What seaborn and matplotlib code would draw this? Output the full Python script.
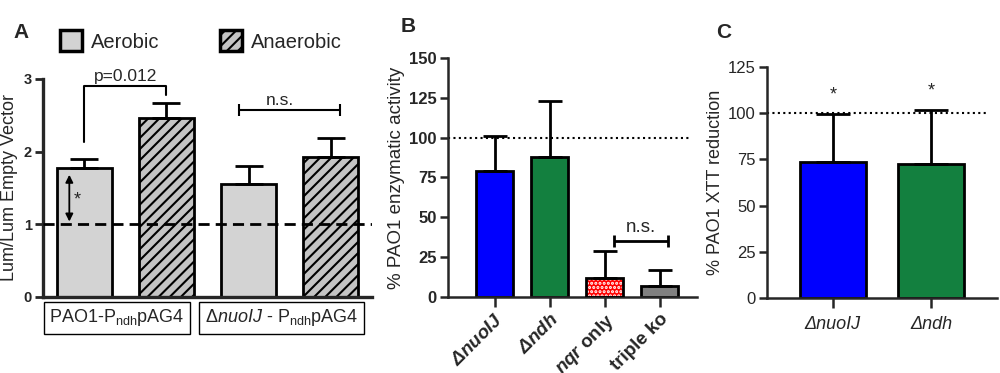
"""Three panel bar figure: luminescence ratio, enzymatic activity, XTT reduction."""
import matplotlib.pyplot as plt
import matplotlib.patches as mpatches
import numpy as np
import pandas as pd
import seaborn as sns

sns.set_style("ticks")
plt.rcParams["font.family"] = ["Liberation Sans", "DejaVu Sans"]
plt.rcParams["mathtext.fontset"] = "custom"
plt.rcParams["mathtext.rm"] = "Liberation Sans"
plt.rcParams["mathtext.it"] = "Liberation Sans:italic"
plt.rcParams["mathtext.bf"] = "Liberation Sans:bold"
plt.rcParams["mathtext.bfit"] = "Liberation Sans:italic:bold"
plt.rcParams["hatch.linewidth"] = 1.5

# panel A data
strains_a = ["PAO1", "nuoIJ"]
conditions = ["Aerobic", "Anaerobic"]
lum_aerobic = [1.78, 1.56]
lum_aerobic_err = [0.12, 0.24]
lum_anaerobic = [2.46, 1.92]
lum_anaerobic_err = [0.21, 0.27]
box_labels_a = [r"PAO1-P$_{\mathrm{ndh}}$pAG4",
                r"Δ$\it{nuoIJ}$ - P$_{\mathrm{ndh}}$pAG4"]

# panel B data
strains_b = ["ΔnuoIJ", "Δndh", "nqr only", "triple ko"]
tick_labels_b = [r"$\mathbfit{Δnuo}$$\mathbfit{IJ}$", r"$\mathbfit{Δndh}$",
                 r"$\mathbfit{nqr}$ only", "triple ko"]
activity = [79, 88, 12, 7]
activity_err = [22, 35, 17, 10]
colors_b = ["#0000ff", "#13803f", "#ff0000", "#808080"]

# panel C data
strains_c = ["ΔnuoIJ", "Δndh"]
xtt = [73.5, 72.5]
xtt_err = [26, 29]
colors_c = ["#0000ff", "#13803f"]

fig = plt.figure(figsize=(10, 3.73), dpi=100)

###### panel A
ax = fig.add_axes([0.043, 0.2038, 0.329, 0.5845])
df_a = pd.DataFrame({
    "strain": strains_a * 2,
    "condition": [conditions[0]] * 2 + [conditions[1]] * 2,
    "lum": lum_aerobic + lum_anaerobic,
    "err": lum_aerobic_err + lum_anaerobic_err,
})
sns.barplot(data=df_a, x="strain", y="lum", hue="condition", order=strains_a,
    hue_order=conditions, palette=["#d3d3d3", "#c4c4c4"], width=1.0, gap=0.33,
    saturation=1, edgecolor="black", linewidth=2, legend=False, ax=ax, errorbar=None)

bar_conts = list(ax.containers)
xa = [b.get_x() + b.get_width() / 2 for c in bar_conts for b in c]
# order: PAO1 aer, nuoIJ aer, PAO1 anaer, nuoIJ anaer
for cond, cont in zip(conditions, bar_conts):
    sub = df_a[df_a["condition"] == cond]
    xs = [b.get_x() + b.get_width() / 2 for b in cont]
    if cond == "Anaerobic":
        for b in cont:
            b.set_hatch("///")
    ax.errorbar(xs, sub["lum"], yerr=[np.zeros(len(sub)), sub["err"]], fmt="none",
        ecolor="black", elinewidth=2, capsize=10, capthick=2, zorder=1)

ax.axhline(1, color="black", lw=2, ls=(0, (4, 2.2)), zorder=5)
ax.set_xlim(-0.5, 1.5)
ax.set_ylim(0, 3)
ax.set_yticks([0, 1, 2, 3])
ax.set_xticks([])
ax.set_xlabel("")
ax.set_ylabel("Lum/Lum Empty Vector", fontsize=13, labelpad=4)
ax.tick_params(axis="y", labelsize=10.5, width=2, length=6, pad=2)
for t in ax.get_yticklabels():
    t.set_fontweight("bold")
sns.despine(ax=ax)
for s in ["left", "bottom"]:
    ax.spines[s].set_linewidth(2.4)

# p value bracket
ax.plot([xa[0], xa[0], xa[2], xa[2]], [2.13, 2.90, 2.90, 2.78], color="black",
    lw=1.5, clip_on=False)
ax.text((xa[0] + xa[2]) / 2, 2.93, "p=0.012", ha="center", va="bottom", fontsize=12.5)
ax.errorbar([(xa[1] + xa[3]) / 2], [2.57], xerr=[[(xa[3] - xa[1]) / 2 * 1.23]],
    fmt="none", ecolor="black", elinewidth=1.5, capsize=4, capthick=1.5)
ax.text((xa[1] + xa[3]) / 2 - 0.06, 2.60, "n.s.", ha="center", va="bottom", fontsize=12.5)

ax.annotate("", xy=(xa[0] - 0.09, 1.0), xytext=(xa[0] - 0.09, 1.72),
    arrowprops=dict(arrowstyle="<|-|>", color="black", lw=1.3, mutation_scale=11))
ax.text(xa[0] - 0.04, 1.33, "*", ha="center", va="center", fontsize=13)

for i, lab in enumerate(box_labels_a):
    ax.text(i - 0.05, -0.096, lab, transform=ax.get_xaxis_transform(), ha="center",
        va="center", fontsize=13,
        bbox=dict(boxstyle="square,pad=0.3", fc="white", ec="black", lw=1))

handles = [mpatches.Patch(facecolor="#d3d3d3", edgecolor="black", lw=2.5, label="Aerobic"),
           mpatches.Patch(facecolor="#c4c4c4", edgecolor="black", lw=2.5, hatch="///",
                          label="Anaerobic")]
fig.legend(handles=handles, loc="center left", bbox_to_anchor=(0.06, 1 - 41 / 373),
    ncol=2, frameon=False, fontsize=14.5, handlelength=1.1, handleheight=1.2,
    handletextpad=0.45, columnspacing=3.0, borderpad=0, borderaxespad=0)

###### panel B
ax = fig.add_axes([0.448, 0.2038, 0.249, 0.6408])
sns.barplot(x=strains_b, y=activity, hue=strains_b, palette=colors_b, width=0.67,
    saturation=1, edgecolor="black", linewidth=2, legend=False, ax=ax, errorbar=None)
bars_b = [b for c in ax.containers for b in c]
xb = [b.get_x() + b.get_width() / 2 for b in bars_b]
red = bars_b[2]
red.set_hatch("....")
red.set_edgecolor("white")
red.set_linewidth(0)
ax.add_patch(mpatches.Rectangle(red.get_xy(), red.get_width(), red.get_height(),
    fill=False, ec="black", lw=2, zorder=3))
ax.errorbar(xb, activity, yerr=[np.zeros(len(activity)), activity_err], fmt="none",
    ecolor="black", elinewidth=2, capsize=8.5, capthick=2, zorder=1)
ax.axhline(100, xmax=0.97, color="black", lw=1.5, ls=(0, (1, 1.6)))
ax.errorbar([(xb[2] + xb[3]) / 2 + 0.16], [35], xerr=[[0.49]], fmt="none",
    ecolor="black", elinewidth=2, capsize=4, capthick=2)
ax.text((xb[2] + xb[3]) / 2 + 0.16, 38, "n.s.", ha="center", va="bottom", fontsize=13.5)
ax.set_xlim(-0.85, 3.68)
ax.set_ylim(0, 150)
ax.set_yticks([0, 25, 50, 75, 100, 125, 150])
ax.set_ylabel("% PAO1 enzymatic activity", fontsize=13.5, labelpad=3)
ax.set_xticks(range(len(strains_b)))
ax.set_xticklabels(tick_labels_b, rotation=45, ha="right", rotation_mode="anchor",
    fontsize=13.5, fontweight="bold")
ax.tick_params(axis="y", labelsize=12, width=1.8, length=6, pad=2)
ax.tick_params(axis="x", width=1.8, length=7, pad=3)
for t in ax.get_yticklabels():
    t.set_fontweight("bold")
sns.despine(ax=ax)
for s in ["left", "bottom"]:
    ax.spines[s].set_linewidth(1.8)

###### panel C
ax = fig.add_axes([0.767, 0.201, 0.230, 0.6193])
sns.barplot(x=strains_c, y=xtt, hue=strains_c, palette=colors_c, width=0.67,
    saturation=1, edgecolor="black", linewidth=2, legend=False, ax=ax, errorbar=None)
xc = [b.get_x() + b.get_width() / 2 for c in ax.containers for b in c]
ax.errorbar(xc, xtt, yerr=[np.zeros(len(xtt)), xtt_err], fmt="none",
    ecolor="black", elinewidth=2, capsize=12, capthick=2, zorder=1)
ax.axhline(100, xmax=0.96, color="black", lw=1.5, ls=(0, (1, 1.6)))
for x, v, e in zip(xc, xtt, xtt_err):
    ax.text(x, v + e + 6, "*", ha="center", va="bottom", fontsize=13)
ax.set_xlim(-0.67, 1.67)
ax.set_ylim(0, 125)
ax.set_yticks([0, 25, 50, 75, 100, 125])
ax.set_ylabel("% PAO1 XTT reduction", fontsize=13, labelpad=3)
ax.set_xticks(range(len(strains_c)))
ax.set_xticklabels(strains_c, fontsize=13, fontstyle="italic")
ax.tick_params(axis="y", labelsize=12, width=1.8, length=6, pad=2)
ax.tick_params(axis="x", width=1.8, length=7, pad=6)
sns.despine(ax=ax)
for s in ["left", "bottom"]:
    ax.spines[s].set_linewidth(1.8)

fig.text(0.013, 1 - 33 / 373, "A", fontsize=15, fontweight="bold", va="center")
fig.text(0.401, 1 - 26 / 373, "B", fontsize=15, fontweight="bold", va="center")
fig.text(0.716, 1 - 32 / 373, "C", fontsize=15, fontweight="bold", va="center")

plt.savefig("out.png", dpi=100)
plt.close()
